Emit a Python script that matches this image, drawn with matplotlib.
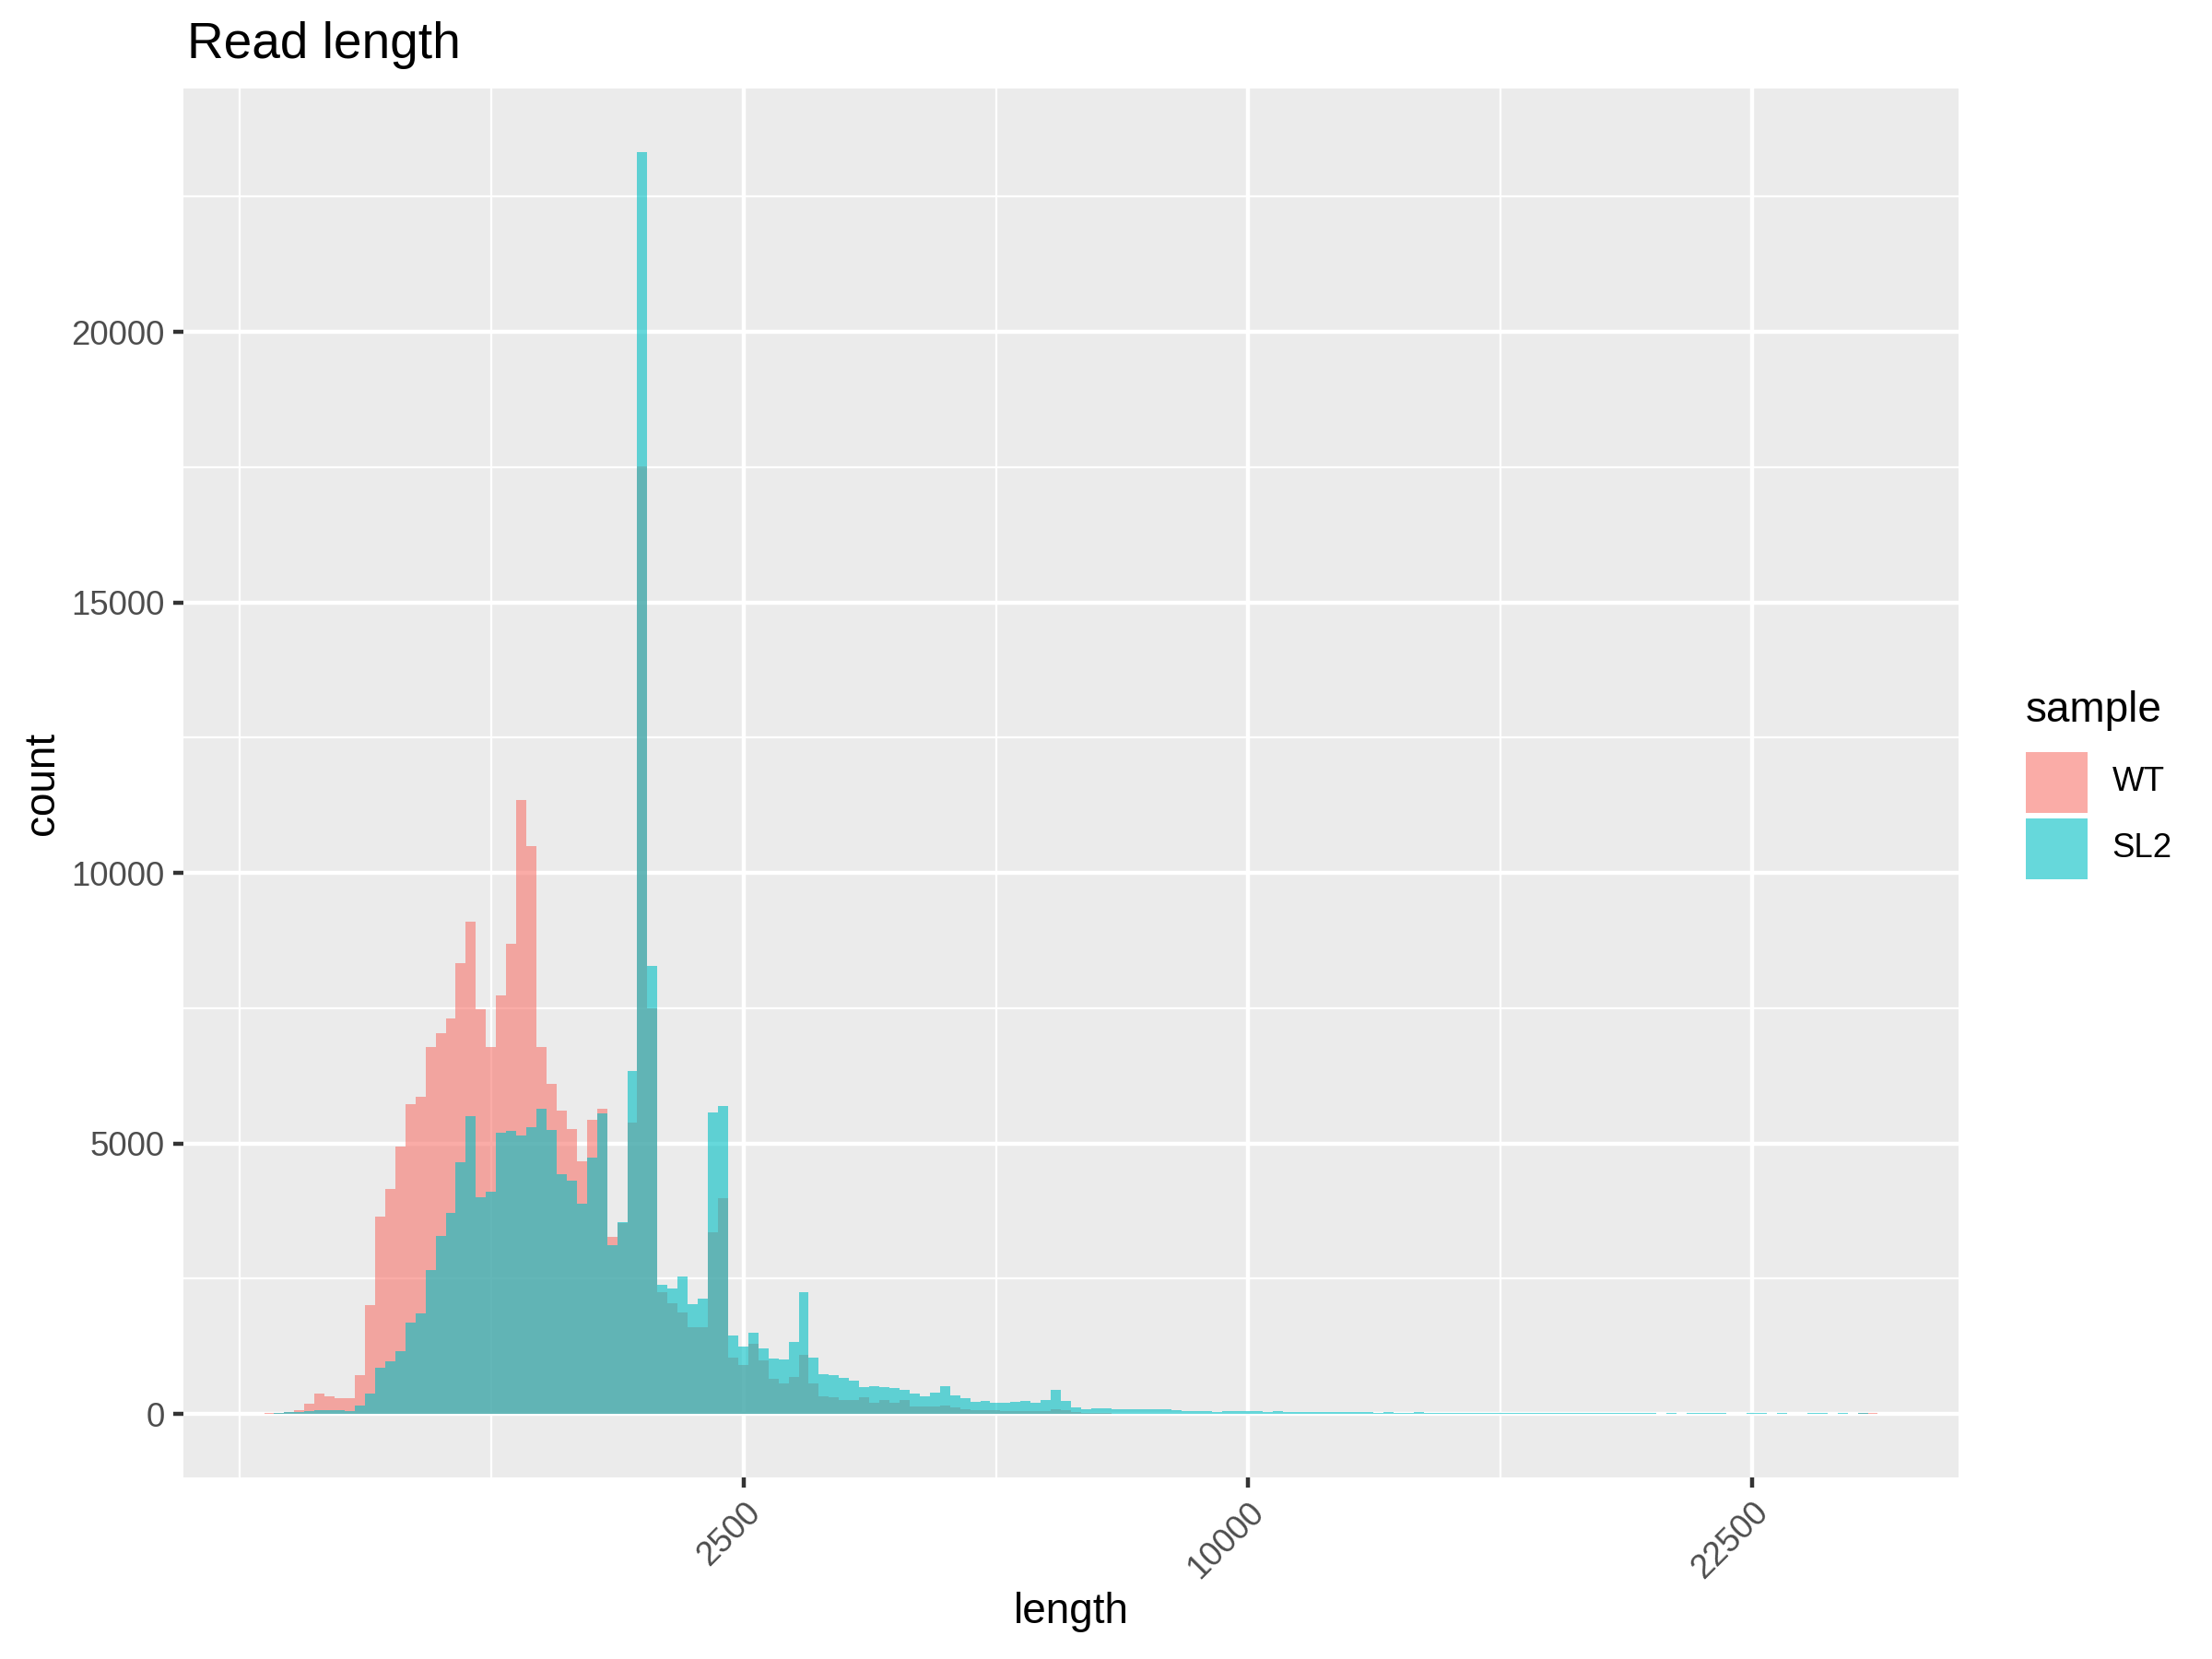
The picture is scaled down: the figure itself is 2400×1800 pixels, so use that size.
import numpy as np
import matplotlib.pyplot as plt
from matplotlib.patches import Rectangle

plt.rcParams['font.family'] = ['Liberation Sans', 'DejaVu Sans']

# histogram counts per bin (bins are 1 unit wide on the sqrt(length) scale)
bin_start = 2.44
bin_width = 1.0

wt = [20, 20, 30, 66, 198, 371, 322, 289, 289, 726,
      2005, 3655, 4167, 4934, 5734, 5866, 6790, 7030, 7318, 8333,
      9100, 7483, 6790, 7739, 8696, 11353, 10495, 6774, 6106, 5611,
      5272, 4662, 5429, 5644, 3267, 3520, 5388, 17514, 7492, 2244,
      2038, 1881, 1609, 1609, 3366, 3993, 1048, 899, 1304, 982,
      644, 561, 677, 1089, 561, 322, 305, 264, 264, 305,
      215, 264, 215, 264, 132, 132, 132, 149, 116, 83,
      66, 66, 66, 55, 45, 45, 45, 45, 96, 62,
      28, 11, 11, 11, 10, 10, 10, 10, 10, 10,
      8, 8, 8, 8, 6, 6, 6, 6, 6, 5,
      5, 5, 5, 5, 5, 5, 4, 4, 4, 4,
      4, 4, 3, 3, 3, 3, 3, 3, 3, 3,
      3, 3, 2, 2, 2, 2, 2, 2, 2, 2,
      2, 2, 2, 2, 2, 2, 2, 2, 0, 0,
      0, 0, 0, 0, 0, 0, 0, 0, 0, 0,
      0, 0, 0, 0, 0, 0, 0, 0, 16, 18]

sl2 = [5, 25, 40, 40, 50, 66, 66, 66, 50, 149,
       371, 850, 965, 1155, 1683, 1865, 2665, 3284, 3721, 4661,
       5511, 4001, 4100, 5206, 5239, 5140, 5305, 5644, 5256, 4439,
       4315, 3894, 4744, 5561, 3127, 3540, 6345, 23325, 8284, 2393,
       2327, 2533, 2021, 2137, 5578, 5685, 1444, 1238, 1493, 1205,
       1031, 1015, 1337, 2244, 1048, 743, 726, 660, 611, 503,
       520, 503, 487, 437, 371, 322, 388, 520, 338, 289,
       231, 248, 215, 215, 220, 233, 215, 250, 437, 233,
       130, 96, 113, 113, 96, 79, 79, 96, 96, 80,
       62, 45, 45, 45, 28, 45, 45, 45, 45, 28,
       45, 28, 28, 28, 28, 28, 34, 30, 34, 28,
       17, 28, 17, 17, 28, 17, 17, 17, 17, 17,
       17, 17, 17, 17, 17, 17, 17, 17, 17, 17,
       17, 17, 17, 17, 17, 17, 17, 17, 0, 17,
       0, 17, 17, 17, 17, 0, 0, 17, 17, 0,
       17, 0, 0, 17, 17, 0, 17, 0, 17, 0]

samples = ['WT', 'SL2']
colors = ['#F8766D', '#00BFC4']
alpha = 0.6

x_breaks = [2500, 10000, 22500]
x_minor = [0, 625, 5625, 15625]
y_breaks = [0, 5000, 10000, 15000, 20000]
y_minor = [2500, 7500, 12500, 17500, 22500]

edges = bin_start + bin_width * np.arange(len(wt) + 1)

fig = plt.figure(figsize=(8, 6), dpi=300)
ax = fig.add_axes([199 / 2400, 1 - 1602.6 / 1800, (2125 - 199) / 2400, (1602.6 - 96.4) / 1800])
ax.set_facecolor('#EBEBEB')

for vals, col in zip([wt, sl2], colors):
    ax.bar(edges[:-1], vals, width=bin_width, align='edge', color=col, alpha=alpha,
           linewidth=0, zorder=3)

xr = edges[-1] - edges[0]
ax.set_xlim(edges[0] - 0.05 * xr, edges[-1] + 0.05 * xr)
ymax = max(max(wt), max(sl2))
ax.set_ylim(-0.05 * ymax, 1.05 * ymax)

ax.set_xticks(np.sqrt(x_breaks))
ax.set_xticklabels([str(b) for b in x_breaks], rotation=45, ha='right', va='top',
                   rotation_mode='anchor')
ax.set_xticks(np.sqrt(x_minor), minor=True)
ax.set_yticks(y_breaks)
ax.set_yticklabels([str(b) for b in y_breaks])
ax.set_yticks(y_minor, minor=True)

ax.grid(which='major', color='white', linewidth=1.07, zorder=1)
ax.grid(which='minor', color='white', linewidth=0.53, zorder=1)
ax.set_axisbelow(True)
for s in ax.spines.values():
    s.set_visible(False)

ax.tick_params(which='major', length=2.75, width=1.07, color='#333333',
               labelsize=8.8, labelcolor='#4D4D4D', pad=2.2)
ax.tick_params(which='minor', length=0)

fig.text(203 / 2400, 1 - 63 / 1800, 'Read length', fontsize=13.2, ha='left', va='baseline')
fig.text(46 / 2400, 1 - 849.5 / 1800, 'count', fontsize=11, rotation=90, ha='center', va='center')
fig.text(1162 / 2400, 1 - 1749 / 1800, 'length', fontsize=11, ha='center', va='center')

# legend
fig.text(2197.7 / 2400, 1 - 783 / 1800, 'sample', fontsize=11, ha='left', va='baseline')
key_tops = [816, 887.7]
for name, col, top in zip(samples, colors, key_tops):
    fig.patches.append(Rectangle((2197.7 / 2400, 1 - (top + 66) / 1800), 67 / 2400, 66 / 1800,
                                 transform=fig.transFigure, facecolor=col, alpha=alpha,
                                 linewidth=0))
    fig.text(2291.7 / 2400, 1 - (top + 33) / 1800, name, fontsize=8.8, ha='left', va='center')

fig.savefig('out.png', dpi=300)
